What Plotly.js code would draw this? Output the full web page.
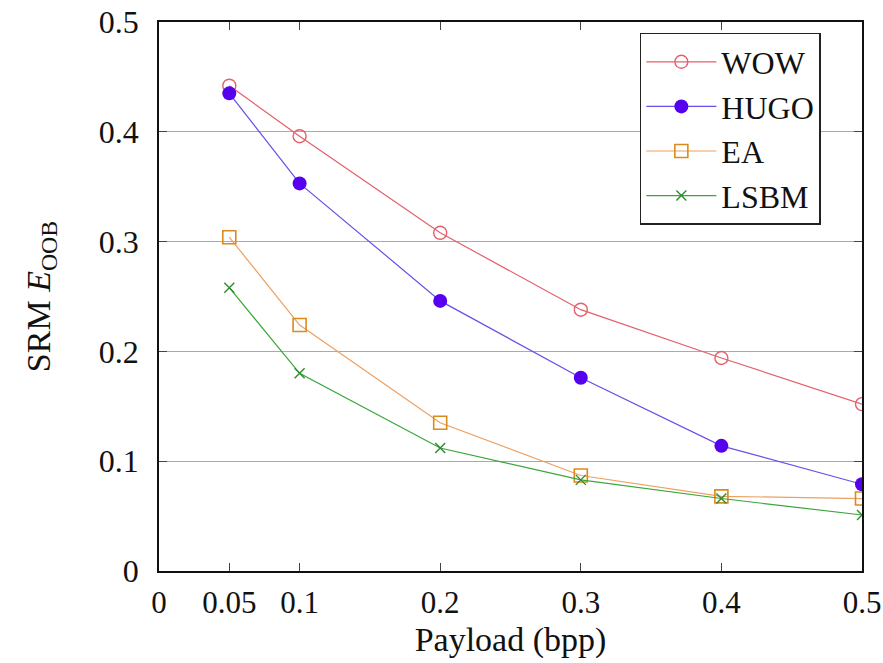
<!DOCTYPE html>
<html>
<head>
<meta charset="utf-8">
<script src="https://cdn.plot.ly/plotly-3.0.1.min.js"></script>
<style>html,body{margin:0;padding:0;background:#fff;}#chart{width:883px;height:663px;}</style>
</head>
<body>
<div id="chart"></div>
<script>
var payload = [0.05, 0.1, 0.2, 0.3, 0.4, 0.5];
var wow  = [0.442, 0.396, 0.308, 0.238, 0.194, 0.152];
var hugo = [0.435, 0.353, 0.246, 0.176, 0.114, 0.079];
var ea   = [0.304, 0.224, 0.135, 0.087, 0.068, 0.066];
var lsbm = [0.258, 0.180, 0.112, 0.083, 0.066, 0.051];
var seriesNames = ['WOW', 'HUGO', 'EA', 'LSBM'];
var xTicks = [0, 0.05, 0.1, 0.2, 0.3, 0.4, 0.5];
var xTickText = ['0', '0.05', '0.1', '0.2', '0.3', '0.4', '0.5'];
var yTicks = [0, 0.1, 0.2, 0.3, 0.4, 0.5];
var yTickText = ['0', '0.1', '0.2', '0.3', '0.4', '0.5'];

var serif = 'Liberation Serif, Times New Roman, serif';

var traces = [
  {x: payload, y: wow, name: seriesNames[0], mode: 'lines+markers',
   line: {color: '#e4606a', width: 1.2},
   marker: {symbol: 'circle-open', size: 13, color: '#e4606a', line: {width: 1.4}}},
  {x: payload, y: hugo, name: seriesNames[1], mode: 'lines+markers',
   line: {color: '#6a4ee8', width: 1.2},
   marker: {symbol: 'circle', size: 14, color: '#5500ee'}},
  {x: payload, y: ea, name: seriesNames[2], mode: 'lines+markers',
   line: {color: '#eda060', width: 1.2},
   marker: {symbol: 'square-open', size: 13, color: '#dd8a1c', line: {width: 1.6}}},
  {x: payload, y: lsbm, name: seriesNames[3], mode: 'lines+markers',
   line: {color: '#3aa53a', width: 1.2},
   marker: {symbol: 'x-thin-open', size: 10, color: '#2e8b2e', line: {width: 1.4}}}
];

var layout = {
  width: 883, height: 663,
  margin: {l: 159, r: 21, t: 22, b: 92},
  paper_bgcolor: '#fff', plot_bgcolor: '#fff',
  font: {family: serif, color: '#111', size: 30},
  showlegend: true,
  legend: {x: 0.684, y: 0.98, xanchor: 'left', yanchor: 'top',
           bordercolor: '#222', borderwidth: 1.5, bgcolor: '#fff',
           font: {family: serif, size: 32, color: '#111'},
           tracegroupgap: 0, itemwidth: 70},
  xaxis: {range: [0, 0.5], tickvals: xTicks, ticktext: xTickText,
          ticks: 'inside', ticklen: 8, tickcolor: '#444', tickwidth: 1,
          showgrid: false, zeroline: false, showline: true, linecolor: '#111', linewidth: 1.8,
          mirror: 'ticks', ticklabelstandoff: 3,
          title: {text: 'Payload (bpp)', font: {family: serif, size: 34}, standoff: 8},
          tickfont: {family: serif, size: 31}},
  yaxis: {range: [0, 0.5], tickvals: yTicks, ticktext: yTickText,
          ticks: 'inside', ticklen: 8, tickcolor: '#444', tickwidth: 1,
          showgrid: true, gridcolor: '#aaaaaa', gridwidth: 1,
          zeroline: false, showline: true, linecolor: '#111', linewidth: 1.8,
          mirror: 'ticks', ticklabelstandoff: 12,
          title: {text: 'SRM <i>E</i><sub>OOB</sub>', font: {family: serif, size: 34}, standoff: 38},
          tickfont: {family: serif, size: 32}}
};

Plotly.newPlot('chart', traces, layout, {displayModeBar: false, staticPlot: true});
</script>
</body>
</html>
